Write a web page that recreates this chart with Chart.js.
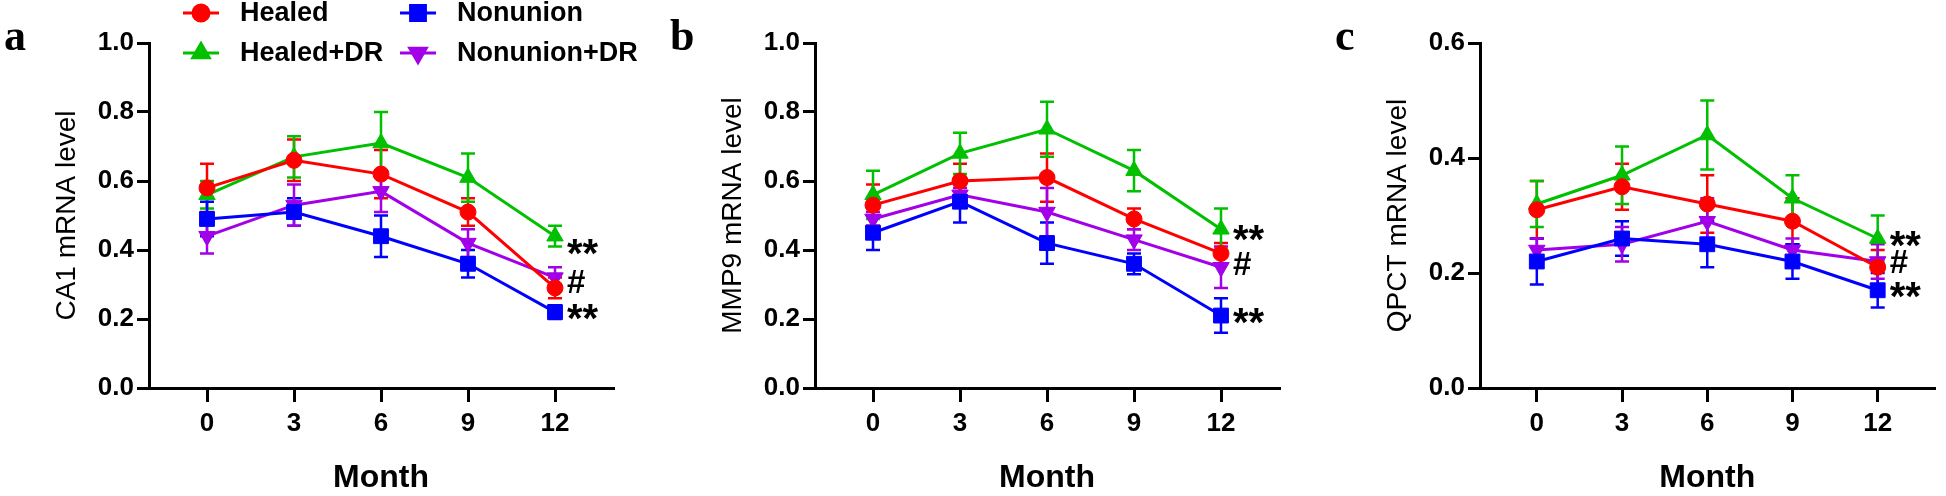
<!DOCTYPE html>
<html>
<head>
<meta charset="utf-8">
<script src="https://cdn.jsdelivr.net/npm/chart.js@4.4.1/dist/chart.umd.min.js"></script>
<style>
html,body{margin:0;padding:0;background:#fff;}
body{width:1946px;height:496px;position:relative;overflow:hidden;}
canvas{position:absolute;top:0;}
</style>
</head>
<body>
<canvas id="chartA" width="650" height="496" style="left:0px"></canvas>
<canvas id="chartB" width="650" height="496" style="left:666px"></canvas>
<canvas id="chartC" width="615" height="496" style="left:1331px"></canvas>
<script>
// months on the x axis
let months = [0, 3, 6, 9, 12];
let seriesNames = ["Healed", "Healed+DR", "Nonunion", "Nonunion+DR"];

// CA1
let healedA    = [0.58, 0.66, 0.62, 0.51, 0.29];
let healedDrA  = [0.56, 0.67, 0.71, 0.61, 0.44];
let nonunionA  = [0.49, 0.51, 0.44, 0.36, 0.22];
let nonunionDrA= [0.44, 0.53, 0.57, 0.42, 0.32];
let errHealedA    = [0.07, 0.06, 0.07, 0.04, 0.03];
let errHealedDrA  = [0.04, 0.06, 0.09, 0.07, 0.03];
let errNonunionA  = [0.05, 0.04, 0.06, 0.04, 0.02];
let errNonunionDrA= [0.05, 0.06, 0.06, 0.04, 0.03];

// MMP9
let healedB    = [0.53, 0.60, 0.61, 0.49, 0.39];
let healedDrB  = [0.56, 0.68, 0.75, 0.63, 0.46];
let nonunionB  = [0.45, 0.54, 0.42, 0.36, 0.21];
let nonunionDrB= [0.49, 0.56, 0.51, 0.43, 0.35];
let errHealedB    = [0.06, 0.05, 0.07, 0.03, 0.03];
let errHealedDrB  = [0.07, 0.06, 0.08, 0.06, 0.06];
let errNonunionB  = [0.05, 0.06, 0.06, 0.03, 0.05];
let errNonunionDrB= [0.02, 0.02, 0.07, 0.03, 0.06];

// QPCT
let healedC    = [0.31, 0.35, 0.32, 0.29, 0.21];
let healedDrC  = [0.32, 0.37, 0.44, 0.33, 0.26];
let nonunionC  = [0.22, 0.26, 0.25, 0.22, 0.17];
let nonunionDrC= [0.24, 0.25, 0.29, 0.24, 0.22];
let errHealedC    = [0.05, 0.04, 0.05, 0.04, 0.03];
let errHealedDrC  = [0.04, 0.05, 0.06, 0.04, 0.04];
let errNonunionC  = [0.04, 0.03, 0.04, 0.03, 0.03];
let errNonunionDrC= [0.02, 0.03, 0.04, 0.02, 0.03];

// significance marks at month 12
let marksText = ["**", "#", "**"];
let marksA = [0.41, 0.31, 0.22];
let marksB = [0.45, 0.36, 0.21];
let marksC = [0.26, 0.22, 0.17];

// styles
let colors = ["#ff0000", "#00c000", "#0000ff", "#a100e8"];
let markers = ["circle", "triangle", "rect", "triangle"];
let markerRot = [0, 0, 0, 180];
let markerSize = [8, 9.5, 10.5, 9.5];
let fontSans = '"Liberation Sans", Arial, sans-serif';

Chart.defaults.font.family = fontSans;
Chart.defaults.color = "#000";

// error bars, drawn under the markers
const errorBars = {
  id: "errorBars",
  beforeDatasetsDraw(chart){
    let ctx = chart.ctx, xs = chart.scales.x, ys = chart.scales.y;
    chart.data.datasets.forEach(ds=>{
      ctx.save();
      ctx.strokeStyle = ds.borderColor;
      ctx.lineWidth = 2.5;
      ds.data.forEach((p, j)=>{
        let px = xs.getPixelForValue(p.x);
        let top = ys.getPixelForValue(p.y + ds.errors[j]);
        let bot = ys.getPixelForValue(p.y - ds.errors[j]);
        ctx.beginPath();
        ctx.moveTo(px, top); ctx.lineTo(px, bot);
        ctx.moveTo(px-7, top); ctx.lineTo(px+7, top);
        ctx.moveTo(px-7, bot); ctx.lineTo(px+7, bot);
        ctx.stroke();
      });
      ctx.restore();
    });
  }
};

// ** and # next to the last point, panel letter, legend
const extras = {
  id: "extras",
  afterDraw(chart, args, opts){
    let ctx = chart.ctx, xs = chart.scales.x, ys = chart.scales.y;
    ctx.save();
    ctx.fillStyle = "#000";
    ctx.textBaseline = "alphabetic";
    let x0 = xs.getPixelForValue(months[months.length-1]) + 12;
    opts.marks.forEach((v, i)=>{
      ctx.font = (marksText[i]=="**" ? "bold 40px " : "bold 33px ") + fontSans;
      let m = ctx.measureText(marksText[i]);
      let cy = ys.getPixelForValue(v);
      let h = m.actualBoundingBoxAscent - m.actualBoundingBoxDescent;
      ctx.fillText(marksText[i], x0, cy + h/2);
    });
    ctx.font = 'bold 44px "Liberation Serif", "Times New Roman", serif';
    ctx.fillText(opts.letter, 4, 50);

    if(opts.legend){
      ctx.font = "bold 27px " + fontSans;
      ctx.textBaseline = "middle";
      let cols = [183, 400], rows = [13, 53];
      chart.data.datasets.forEach((ds, i)=>{
        let lx = cols[Math.floor(i/2)], ly = rows[i%2];
        ctx.strokeStyle = ds.borderColor;
        ctx.fillStyle = ds.borderColor;
        ctx.lineWidth = 3;
        ctx.beginPath(); ctx.moveTo(lx, ly); ctx.lineTo(lx+36, ly); ctx.stroke();
        Chart.helpers.drawPoint(ctx, {pointStyle: ds.pointStyle, rotation: ds.pointRotation, radius: ds.pointRadius, borderWidth: 1}, lx+18, ly);
        ctx.fillStyle = "#000";
        ctx.fillText(ds.label, lx+57, ly+1);
      });
    }
    ctx.restore();
  }
};

function makePanel(id, letter, title, yMax, values, errors, marks, padRight, legend){
  let datasets = values.map((vals, i)=>({
    label: seriesNames[i],
    data: months.map((m, j)=>({x: m, y: vals[j]})),
    errors: errors[i],
    borderColor: colors[i],
    backgroundColor: colors[i],
    borderWidth: 3,
    pointStyle: markers[i],
    pointRotation: markerRot[i],
    pointRadius: markerSize[i],
    pointBorderWidth: 1,
    tension: 0,
    clip: false
  }));
  return new Chart(document.getElementById(id), {
    type: "line",
    data: {datasets},
    options: {
      responsive: false,
      animation: false,
      events: [],
      layout: {padding: {top: 43, right: padRight, left: 0, bottom: 0}},
      plugins: {
        legend: {display: false},
        tooltip: {enabled: false},
        extras: {letter, marks, legend}
      },
      scales: {
        x: {
          type: "linear", min: -2, max: 14,
          afterBuildTicks: s=>{ s.ticks = months.map(v=>({value: v})); },
          afterFit: s=>{ s.height = 108; },
          border: {display: true, color: "#000", width: 3},
          grid: {display: true, drawOnChartArea: false, color: "#000", lineWidth: 3, tickLength: 14},
          ticks: {font: {size: 26, weight: "bold"}, color: "#000", padding: 6},
          title: {display: true, text: "Month", font: {size: 32, weight: "bold", lineHeight: 1}, padding: {top: 0, bottom: 2}}
        },
        y: {
          min: 0, max: yMax,
          afterFit: s=>{ s.width = 149; },
          border: {display: true, color: "#000", width: 3},
          grid: {display: true, drawOnChartArea: false, color: "#000", lineWidth: 3, tickLength: 12},
          ticks: {stepSize: 0.2, font: {size: 26, weight: "bold"}, color: "#000", padding: 3,
                  callback: v=>v.toFixed(1)},
          title: {display: true, text: title, font: {size: 28}, padding: {top: 50, bottom: 0}}
        }
      }
    },
    plugins: [errorBars, extras]
  });
}

makePanel("chartA", "a", "CA1 mRNA level", 1.0,
  [healedA, healedDrA, nonunionA, nonunionDrA],
  [errHealedA, errHealedDrA, errNonunionA, errNonunionDrA], marksA, 37, true);
makePanel("chartB", "b", "MMP9 mRNA level", 1.0,
  [healedB, healedDrB, nonunionB, nonunionDrB],
  [errHealedB, errHealedDrB, errNonunionB, errNonunionDrB], marksB, 37, false);
makePanel("chartC", "c", "QPCT mRNA level", 0.6,
  [healedC, healedDrC, nonunionC, nonunionDrC],
  [errHealedC, errHealedDrC, errNonunionC, errNonunionDrC], marksC, 2, false);
</script>
</body>
</html>
